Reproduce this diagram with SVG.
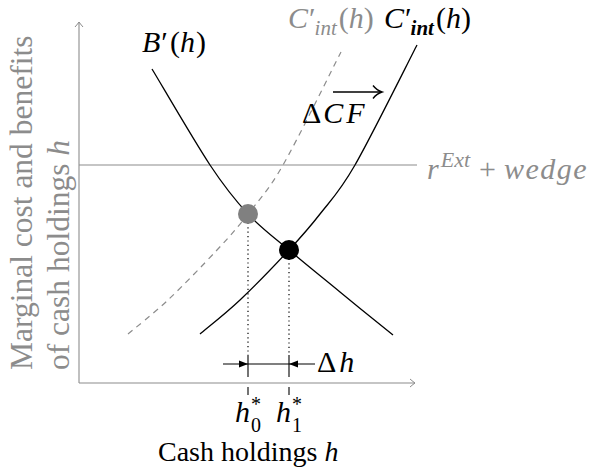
<svg xmlns="http://www.w3.org/2000/svg" width="596" height="472" viewBox="0 0 596 472">
<defs>
<style>
.ax{stroke:#8c8c8c;stroke-width:1.1;fill:none}
.cv{stroke:#000;stroke-width:1.3;fill:none}
.dash{stroke:#8c8c8c;stroke-width:1.2;fill:none;stroke-dasharray:6 5}
.dot{stroke:#000;stroke-width:1.2;fill:none;stroke-dasharray:1.2 3.2}
.t{font-family:'Liberation Serif','DejaVu Serif',serif;font-size:30px;fill:#000}
.g{fill:#8c8c8c}
.i{font-style:italic}
.thin{stroke:#000;stroke-width:1.1;fill:none}
</style>
<marker id="to" viewBox="-6 -5 8 10" markerWidth="8" markerHeight="10" refX="0" refY="0" orient="auto" markerUnits="userSpaceOnUse">
<path d="M-5,-4 Q-1.5,-1 0,0 Q-1.5,1 -5,4" stroke="#8c8c8c" stroke-width="1" fill="none"/>
</marker>
</defs>

<g id="axes">
<line class="ax" x1="79" y1="383" x2="79" y2="22" marker-end="url(#to)"/>
<line class="ax" x1="79" y1="383" x2="415" y2="383" marker-end="url(#to)"/>
<line id="rext-line" class="ax" x1="79" y1="165" x2="417" y2="165"/>
</g>

<g id="connectors">
<path id="cint-old" class="dash" d="M128,334 C134.7,328.3 153.2,314 168,300 C182.8,286 203.7,264.3 217,250 C230.3,235.7 237,228.2 248,214 C259,199.8 267.5,192 283,165 C298.5,138 331.3,70.8 341,52"/>
<path id="cint-new" class="cv" d="M200,334 C206.7,328.3 225.2,314 240,300 C254.8,286 275.7,264.3 289,250 C302.3,235.7 309,228.2 320,214 C331,199.8 338.8,193.2 355,165 C371.2,136.8 406.7,65 417,45"/>
<path id="bprime" class="cv" d="M152,69 C161.7,85 194,140.8 210,165 C226,189.2 234.8,199.8 248,214 C261.2,228.2 273.7,237 289,250 C304.3,263 322.7,277.8 340,292 C357.3,306.2 384.2,327.8 393,335"/>
<line class="dot" x1="248" y1="214" x2="248" y2="355"/>
<line class="dot" x1="289" y1="250" x2="289" y2="355"/>
<g id="delta-h-dim">
<line class="thin" x1="248" y1="355" x2="248" y2="377"/>
<line class="thin" x1="289" y1="355" x2="289" y2="377"/>
<line class="thin" x1="248" y1="387" x2="248" y2="395"/>
<line class="thin" x1="289" y1="387" x2="289" y2="395"/>
<line class="thin" x1="223" y1="364" x2="315" y2="364"/>
<polygon points="248,364 239,360.5 239,367.5" fill="#000"/>
<polygon points="289,364 298,360.5 298,367.5" fill="#000"/>
</g>
<g id="cf-arrow">
<line x1="333" y1="92" x2="381" y2="92" stroke="#000" stroke-width="1.5"/>
<path d="M373,85.5 Q377,90.5 382,92 Q377,93.5 373,98.5" stroke="#000" stroke-width="1.4" fill="none"/>
</g>
</g>

<g id="eq0"><circle cx="248" cy="214" r="10" fill="#808080"/></g>
<g id="eq1"><circle cx="289" cy="250" r="10" fill="#000"/></g>

<g id="labels">
<text class="t g" style="font-size:31.5px" transform="translate(32,370) rotate(-90)">Marginal cost and benefits</text>
<text class="t g" style="font-size:31.5px" transform="translate(69,370) rotate(-90)">of cash holdings <tspan class="i">h</tspan></text>
<text class="t" x="142" y="52"><tspan class="i">B</tspan><tspan dx="1">′</tspan><tspan dx="2">(</tspan><tspan class="i">h</tspan><tspan dx="1">)</tspan></text>
<text class="t g" x="288" y="28"><tspan class="i">C</tspan><tspan dx="1">′</tspan><tspan class="i" style="font-size:21px" dx="-1" dy="7">int</tspan><tspan dy="-7" dx="2">(</tspan><tspan class="i">h</tspan>)</text>
<text class="t" x="384" y="28"><tspan class="i">C</tspan><tspan dx="1">′</tspan><tspan class="i" style="font-size:21px;font-weight:bold" dx="-1" dy="7">int</tspan><tspan dy="-7" dx="2">(</tspan><tspan class="i">h</tspan>)</text>
<text class="t" x="302" y="123">Δ<tspan class="i" dx="2">C</tspan><tspan class="i" dx="3">F</tspan></text>
<text class="t g" x="427" y="179"><tspan class="i">r</tspan><tspan class="i" style="font-size:22px" dx="2" dy="-12">Ext</tspan><tspan dy="12" dx="9">+</tspan><tspan class="i" dx="8" style="letter-spacing:1.5px">wedge</tspan></text>
<text class="t" x="317" y="372">Δ<tspan class="i" dx="3">h</tspan></text>
<text class="t" x="235" y="422"><tspan class="i">h</tspan><tspan style="font-size:20px" dx="1" dy="-11">*</tspan><tspan style="font-size:20px" dx="-10" dy="21">0</tspan></text>
<text class="t" x="276" y="422"><tspan class="i">h</tspan><tspan style="font-size:20px" dx="1" dy="-11">*</tspan><tspan style="font-size:20px" dx="-10" dy="21">1</tspan></text>
<text class="t" style="font-size:28px" x="158" y="461">Cash holdings <tspan class="i">h</tspan></text>
</g>
</svg>
